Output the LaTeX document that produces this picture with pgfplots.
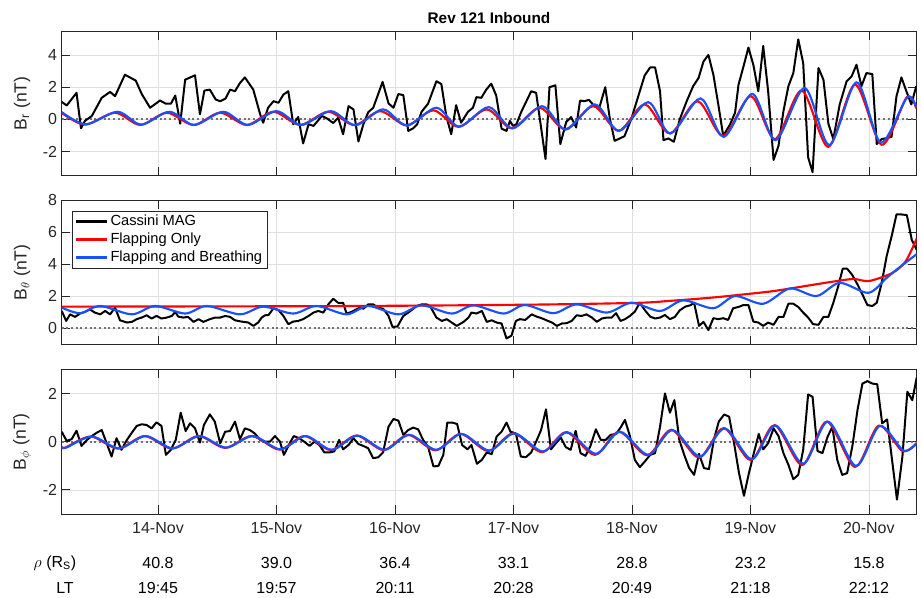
\documentclass[border=0pt]{standalone}
\usepackage{pgfplots}
\pgfplotsset{compat=1.18}
\usepackage{fontspec}
\setmainfont{Liberation Sans}
\definecolor{axgray}{rgb}{0.15,0.15,0.15}
\definecolor{mblue}{RGB}{25,80,255}
\definecolor{mred}{RGB}{255,0,0}
\pgfplotsset{
  panel/.style={
    scale only axis, width=641.25pt, height=108.4pt, anchor=north west,
    xmin=-19.5, xmax=153.7,
    xtick={0,24,48,72,96,120,144}, xticklabels={},
    tick align=inside, tick pos=both, major tick length=6.5pt,
    grid=major, major grid style={line width=0.4pt, color=black!12},
    axis line style={line width=0.5pt, color=axgray},
    every tick/.style={line width=0.5pt, color=axgray},
    tick label style={font=\fontsize{12}{14}\selectfont, text=axgray},
    /pgf/number format/assume math mode=true,
    ylabel style={font=\fontsize{13.2}{15}\selectfont, text=axgray, at={(axis description cs:-0.0464,0.5)}, anchor=center},
  },
  zero/.style={color=black!55, line width=1.5pt, dash pattern=on 1.5pt off 2pt, forget plot},
  mag/.style={color=black, line width=1.5pt, line join=round},
  flap/.style={color=mred, line width=1.6pt, smooth},
  breath/.style={color=mblue, line width=1.6pt, smooth},
}
\begin{document}
\begin{tikzpicture}
\useasboundingbox (0pt,0pt) rectangle (691.5pt,-447.75pt);
\node[font=\bfseries\fontsize{11.5}{13}\selectfont, text=black] at (366.75pt,-13.5pt) {Rev 121 Inbound};

% ---------------- Panel 1: B_r
\begin{axis}[panel, at={(46.3pt,-23.25pt)}, ymin=-3.5, ymax=5.5, ytick={-2,0,2,4},
  ylabel={B\textsubscript{r} (nT)}]
\addplot[zero] coordinates {(-19.5,0) (153.7,0)};
\addplot[mag] coordinates {
(-19.5,1.09) (-18.5,0.86) (-16.5,1.65) (-15.6,-0.56) (-14.8,-0.10) (-13.4,0.21) (-11.4,1.34) (-9.7,1.71) (-8.7,1.44) (-6.7,2.78) (-4.5,2.41) (-3.3,1.58) (-1.6,0.72) (0.4,1.17) (1.6,0.97) (2.6,0.97) (3.5,1.48) (4.5,-0.27) (5.5,2.47) (7.5,2.74) (8.5,0.31) (9.4,1.79) (10.5,1.85) (11.7,1.23) (12.6,1.13) (13.7,1.30) (14.6,1.85) (15.6,1.75) (16.6,2.26) (17.6,2.61) (19.3,1.85) (20.7,0.31) (21.3,-0.21) (22.3,0.72) (23.4,1.13) (24.4,1.03) (25.4,1.54) (26.4,1.75) (27.4,-0.31) (28.4,0.14) (29.4,-1.50) (30.5,-0.31) (31.5,-0.41) (33.2,0.21) (34.2,0.06) (35.5,-0.23) (36.5,0.10) (37.5,-0.93) (38.6,0.82) (39.6,0.62) (40.6,-1.38)
(41.6,-0.31) (42.6,0.45) (43.6,0.72) (45.5,2.33) (46.7,0.99) (47.7,0.72) (48.7,1.58) (49.7,1.50) (50.7,-0.72) (51.7,-0.56) (52.5,-0.31) (53.4,0.47) (54.7,0.97) (56.4,2.37) (57.4,2.20) (58.4,0.21) (59.4,-0.93) (60.4,0.88) (61.4,-0.21) (62.8,0.47) (63.8,0.72) (64.5,1.38) (65.5,1.34) (66.5,1.85) (67.5,2.22) (68.5,1.50) (69.6,-0.58) (70.6,-0.72) (71.3,-0.10) (71.9,-0.41) (72.6,-0.31) (73.6,0.47) (75.6,1.75) (76.6,1.65) (77.6,-0.51) (78.5,-2.47) (79.3,2.00) (80.5,2.12) (81.5,-1.54) (82.7,-0.16) (83.7,0.14) (84.7,-0.51) (85.5,1.17) (86.4,1.13) (87.3,1.21) (88.4,0.82) (89.4,0.72) (90.6,2.00) (91.5,0.10) (92.5,-1.34) (94.5,-1.05) (95.9,0.04) (97.6,1.75)
(98.6,2.74) (99.7,3.23) (100.7,3.23) (101.7,1.75) (102.4,-1.30) (103.4,-1.19) (104.5,-1.40) (105.7,0.0) (107.1,1.13) (108.4,2.06) (109.5,2.57) (110.5,3.60) (111.5,4.01) (112.5,2.78) (113.5,0.93) (114.5,-1.03) (115.9,-0.31) (116.9,0.41) (117.6,2.16) (118.7,3.40) (119.6,4.47) (120.6,3.40) (121.6,1.75) (122.6,4.57) (123.6,1.75) (124.7,-2.53) (125.7,-1.65) (126.7,0.51) (127.7,2.06) (128.7,2.88) (129.7,4.98) (130.7,3.50) (131.7,-2.37) (132.6,-3.29) (133.8,3.19) (134.8,2.47) (135.8,-0.27) (136.8,-1.23) (138.1,0.93) (139.5,2.37) (140.5,2.67) (141.5,3.40) (142.5,2.06) (143.5,2.88) (144.7,2.82) (145.6,-1.54) (146.6,-1.23) (147.6,-1.17) (148.6,-1.09) (149.6,1.44) (150.6,2.61) (151.6,1.75) (152.6,0.93) (153.6,2.06)};
\addplot[flap] coordinates {
(-19.5,0.40) (-14.8,-0.33) (-8.7,0.41) (-3.6,-0.35) (1.8,0.41) (7.2,-0.35) (12.6,0.41) (18.0,-0.35) (23.4,0.47) (28.8,-0.35) (34.5,0.47) (39.8,-0.36) (45.0,0.51) (50.4,-0.37) (55.8,0.56) (60.9,-0.47) (66.6,0.62) (71.7,-0.56) (77.3,0.72) (82.5,-0.62) (88.2,0.82) (93.3,-0.72) (98.6,0.93) (103.7,-0.88) (109.3,1.13) (114.5,-1.03) (120.1,1.44) (125.0,-1.23) (130.4,1.79) (135.8,-1.71) (141.2,2.16) (146.6,-1.58) (151.7,1.38) (153.6,0.68)};
\addplot[breath] coordinates {
(-19.5,0.45) (-14.6,-0.31) (-8.2,0.47) (-3.4,-0.33) (2.3,0.47) (7.3,-0.35) (13.2,0.47) (18.2,-0.35) (24.0,0.51) (29.0,-0.35) (35.0,0.51) (40.0,-0.37) (45.6,0.62) (50.4,-0.39) (56.4,0.72) (61.0,-0.45) (67.0,0.76) (71.8,-0.56) (77.8,0.82) (82.6,-0.64) (88.5,0.93) (93.4,-0.72) (99.3,1.07) (103.8,-0.88) (109.9,1.30) (114.6,-1.09) (120.4,1.58) (125.1,-1.30) (131.0,1.95) (136.0,-1.60) (141.5,2.30) (146.4,-1.44) (151.7,1.34) (153.6,0.76)};
\end{axis}

% ---------------- Panel 2: B_theta
\begin{axis}[panel, at={(46.3pt,-150pt)}, ymin=-1, ymax=8, ytick={0,2,4,6,8},
  ylabel={B\textsubscript{$\theta$} (nT)},
  legend cell align=left,
  legend image code/.code={\draw[#1] (0pt,0pt) -- (23pt,0pt);},
  every legend image post/.style={line width=2.2pt},
  legend style={at={(rel axis cs:0.012,0.924)}, anchor=north west, draw=axgray, fill=white,
    font=\fontsize{11}{13}\selectfont, text=black, inner xsep=2pt, inner ysep=1pt, row sep=0pt,
    nodes={inner sep=1.5pt, text height=8pt, text depth=2.5pt}}]
\addplot[zero] coordinates {(-19.5,0) (153.7,0)};
\addplot[mag] coordinates {
(-19.5,1.09) (-18.6,0.47) (-17.8,0.88) (-16.8,0.72) (-15.8,0.93) (-14.8,1.03) (-13.8,1.19) (-12.8,0.99) (-11.7,0.88) (-10.7,1.09) (-9.7,0.88) (-8.7,1.30) (-7.7,0.51) (-6.3,0.37) (-5.3,0.41) (-4.3,0.58) (-3.3,0.68) (-2.3,0.82) (-1.3,0.62) (-0.3,0.78) (0.7,0.62) (1.8,0.68) (2.8,0.78) (3.5,1.03) (4.1,0.74) (5.1,0.68) (6.1,0.72) (7.2,0.41) (8.2,0.58) (9.2,0.41) (10.5,0.58) (11.6,0.68) (12.6,0.68) (13.6,0.78) (14.6,0.72) (15.6,0.51) (16.9,0.43) (18.3,0.37) (19.3,0.16) (20.3,0.37) (21.0,0.68) (21.7,0.82) (22.4,0.84) (23.4,1.26) (24.4,1.15) (25.4,0.78) (26.4,0.27) (27.4,0.43) (28.4,0.47) (29.4,0.58) (30.5,0.78) (31.5,0.99) (32.5,1.09) (33.5,0.99) (34.5,1.50) (35.5,1.85) (36.5,1.60) (37.5,1.60) (38.2,0.93) (39.2,1.03) (40.2,1.19) (40.9,1.30)
(41.6,1.23) (42.6,1.50) (43.6,1.50) (44.6,1.30) (45.6,1.23) (46.7,0.78) (47.5,0.10) (48.5,0.12) (49.7,0.78) (50.7,0.99) (51.4,1.15) (52.4,1.40) (53.4,1.50) (54.4,1.50) (55.1,1.40) (56.4,0.68) (57.5,0.47) (58.5,0.58) (59.5,0.37) (60.5,0.16) (61.9,0.41) (62.9,0.68) (63.5,0.99) (64.5,0.93) (65.6,1.09) (66.6,0.41) (67.6,0.51) (68.6,0.37) (69.6,0.31) (70.6,-0.62) (71.6,-0.45) (72.5,0.47) (73.3,0.58) (74.4,0.53) (75.7,0.88) (76.7,0.74) (77.7,0.64) (78.7,0.51) (79.8,0.37) (80.8,0.16) (81.8,0.31) (82.8,0.33) (83.8,0.47) (84.8,0.82) (85.8,0.78) (86.8,0.88) (87.9,0.68) (88.9,0.41) (89.9,0.62) (90.9,0.68) (91.9,0.68) (92.8,0.95) (93.7,0.47) (94.6,0.58) (95.6,0.78) (96.6,1.05) (97.6,1.60)
(98.6,1.15) (99.7,0.74) (100.7,0.62) (101.7,0.68) (102.7,0.84) (103.7,0.58) (104.7,0.72) (105.7,1.13) (106.8,1.36) (107.8,1.44) (108.6,1.60) (109.6,0.16) (110.5,0.41) (111.5,-0.10) (112.5,0.64) (113.5,0.58) (114.5,0.64) (115.5,0.53) (116.5,1.26) (117.6,1.34) (118.6,1.46) (119.6,1.46) (120.6,0.43) (121.6,0.37) (122.6,0.16) (123.6,0.37) (124.7,0.23) (125.7,0.72) (126.7,0.72) (127.7,1.54) (128.7,1.54) (129.7,1.34) (130.7,0.99) (131.7,0.68) (132.7,0.27) (133.8,0.23) (134.8,0.72) (135.8,0.72) (136.8,1.60) (137.8,2.63) (138.7,3.72) (139.6,3.72) (140.6,3.35) (141.7,2.74) (142.7,2.12) (143.7,1.46) (144.7,1.40) (145.6,1.60) (146.6,2.84) (147.6,4.49) (148.6,5.72) (149.6,7.10) (150.6,7.10) (151.7,7.06) (152.7,5.51) (153.7,4.90)};
\addlegendentry{Cassini MAG}
\addplot[flap] coordinates {
(-19.5,1.36) (0,1.37) (20,1.38) (40,1.40) (60,1.44) (80,1.50) (97.6,1.60) (103.7,1.72) (108.6,1.83) (113.9,1.97) (119.2,2.14) (124.0,2.30) (127.3,2.45) (132.7,2.72) (136.8,2.92) (140.9,3.08) (143.9,2.95) (147.6,3.30) (149.6,3.62) (151.6,4.25) (153.7,5.60)};
\addlegendentry{Flapping Only}
\addplot[breath] coordinates {
(-19.5,1.30) (-15.8,0.95) (-11.7,1.40) (-5.3,0.88) (-0.6,1.40) (5.5,0.93) (9.9,1.40) (16.6,0.88) (21.3,1.36) (27.4,0.93) (32.1,1.40) (38.2,0.88) (42.6,1.40) (48.7,0.88) (53.4,1.44) (59.5,0.93) (63.9,1.44) (70.0,0.93) (74.3,1.46) (80.1,0.95) (84.8,1.50) (90.9,0.99) (95.9,1.60) (101.7,1.09) (106.4,1.75) (112.5,1.26) (116.9,2.02) (122.6,1.54) (128.0,2.49) (133.4,2.02) (138.1,2.84) (143.9,2.22) (147.6,3.15) (149.6,3.66) (153.7,4.63)};
\addlegendentry{Flapping and Breathing}
\end{axis}

% ---------------- Panel 3: B_phi
\begin{axis}[panel, at={(46.3pt,-277pt)}, ymin=-3, ymax=3, ytick={-2,0,2},
  ylabel={B\textsubscript{$\phi$} (nT)},
  xticklabels={14-Nov,15-Nov,16-Nov,17-Nov,18-Nov,19-Nov,20-Nov},
  xticklabel style={yshift=-3pt}]
\addplot[zero] coordinates {(-19.5,0) (153.7,0)};
\addplot[mag] coordinates {
(-19.5,0.41) (-18.5,0.03) (-17.5,0.10) (-16.5,0.45) (-15.5,-0.18) (-14.4,0.07) (-13.4,0.23) (-12.4,0.37) (-11.4,0.48) (-10.4,-0.07) (-9.4,-0.62) (-8.4,0.14) (-7.4,-0.34) (-6.3,0.07) (-5.3,0.37) (-4.3,0.65) (-3.3,0.72) (-2.3,0.69) (-1.3,0.55) (-0.3,0.80) (0.7,0.65) (1.6,-0.55) (2.6,-0.34) (3.6,0.07) (4.6,1.20) (5.6,0.44) (6.5,0.76) (7.5,0.55) (8.5,-0.04) (9.3,0.69) (10.5,1.13) (11.5,0.83) (12.6,-0.07) (13.6,0.41) (14.6,0.44) (15.6,0.83) (16.6,0.10) (17.6,0.55) (18.6,0.48) (19.6,0.34) (20.7,0.07) (21.7,0.0) (22.7,0.0) (23.7,0.23) (24.7,0.0) (25.5,-0.55) (26.5,-0.14) (27.5,0.23) (28.6,0.14) (29.6,0.0) (30.7,-0.18) (31.7,0.0) (32.7,-0.14) (33.7,-0.45) (34.7,-0.45) (35.7,-0.41) (36.7,0.07) (37.5,-0.32) (38.6,-0.14) (39.6,0.14) (40.6,-0.10)
(41.6,-0.18) (42.6,-0.28) (43.6,-0.69) (44.6,-0.65) (45.6,-0.45) (46.7,0.62) (47.7,0.94) (48.7,0.87) (49.7,0.28) (50.7,0.48) (51.7,0.58) (52.7,0.51) (53.7,0.07) (54.7,-0.21) (55.8,-1.03) (56.8,-1.01) (57.8,-0.55) (58.6,0.79) (59.6,0.79) (60.6,0.73) (61.6,-0.14) (62.7,-0.32) (63.5,-0.14) (64.6,-0.92) (65.6,-0.76) (66.6,-0.45) (67.6,-0.52) (68.6,0.21) (69.6,0.41) (70.6,0.79) (71.4,0.41) (72.5,0.34) (73.5,-0.62) (74.5,-0.65) (75.6,-0.45) (76.6,0.0) (77.6,0.48) (78.6,1.34) (79.6,-0.32) (80.6,-0.07) (81.6,0.17) (82.6,-0.23) (83.6,-0.34) (84.6,0.45) (85.6,-0.48) (86.6,-0.59) (87.6,-0.18) (88.7,0.51) (89.7,0.07) (90.7,0.07) (91.7,0.28) (92.8,0.32) (93.7,0.58) (94.6,0.90) (95.6,0.23) (96.6,-0.76) (97.6,-1.06)
(98.6,-0.83) (99.7,-0.55) (100.7,-0.48) (101.7,0.62) (102.7,2.00) (103.7,1.20) (104.6,1.72) (105.6,0.07) (106.6,-0.55) (107.6,-1.10) (108.6,-1.38) (109.6,-0.51) (110.6,-1.10) (111.6,-1.14) (112.6,0.07) (113.6,0.83) (114.7,1.13) (115.7,1.03) (116.7,-0.07) (117.7,-1.31) (118.7,-2.25) (119.7,-1.31) (120.7,-0.48) (121.7,0.32) (122.6,-0.32) (123.6,-0.07) (124.7,0.55) (125.7,0.23) (126.7,-0.48) (127.7,-0.96) (128.7,-1.56) (129.7,-1.38) (130.7,-0.34) (131.7,1.96) (132.6,1.86) (133.6,-0.39) (134.6,-0.48) (135.6,0.18) (136.6,0.62) (137.6,-0.76) (138.6,-1.38) (139.6,-1.31) (140.7,-0.14) (141.7,1.31) (142.7,2.41) (143.7,2.51) (144.7,2.41) (145.7,2.38) (146.7,0.76) (147.7,0.92) (148.7,-0.76) (149.7,-2.41) (150.8,-0.62) (151.8,2.07) (152.8,1.72) (153.7,2.66)};
\addplot[flap] coordinates {
(-19.5,-0.22) (-18.8,-0.25) (-13.6,0.21) (-8.1,-0.29) (-2.7,0.23) (2.8,-0.29) (8.2,0.23) (13.6,-0.26) (19.0,0.23) (24.6,-0.33) (29.7,0.23) (35.0,-0.35) (40.2,0.25) (45.7,-0.35) (50.7,0.28) (56.2,-0.36) (61.3,0.32) (66.9,-0.39) (72.0,0.34) (77.8,-0.44) (82.7,0.39) (88.5,-0.55) (93.4,0.41) (99.1,-0.57) (104.0,0.49) (109.6,-0.66) (114.6,0.56) (120.1,-0.77) (124.9,0.68) (130.5,-0.97) (135.5,0.83) (141.2,-1.05) (146.0,0.66) (150.8,-0.39) (153.7,-0.05)};
\addplot[breath] coordinates {
(-19.5,-0.21) (-18.6,-0.25) (-13.4,0.21) (-7.9,-0.28) (-2.5,0.23) (3.0,-0.28) (8.4,0.23) (13.8,-0.25) (19.2,0.23) (24.8,-0.32) (29.9,0.23) (35.2,-0.34) (40.4,0.25) (45.9,-0.34) (50.9,0.28) (56.4,-0.34) (61.5,0.32) (67.1,-0.37) (72.2,0.34) (78.0,-0.41) (82.9,0.39) (88.7,-0.51) (93.6,0.41) (99.3,-0.55) (104.2,0.48) (109.8,-0.62) (114.8,0.55) (120.3,-0.73) (125.1,0.67) (130.7,-0.92) (135.7,0.83) (141.4,-1.01) (146.2,0.65) (151.0,-0.37) (153.7,-0.07)};
\end{axis}

% ---------------- rows of rho and LT under the x axis
\begin{scope}[font=\fontsize{12}{14}\selectfont, text=black]
\node at (41.25pt,-422.25pt) {$\rho$ (R\textsubscript{S})};
\node at (48.75pt,-441pt) {LT};
\foreach \xx/\rr/\lt in {118.5/40.8/19:45, 207.375/39.0/19:57, 296.25/36.4/20:11, 385.125/33.1/20:28, 474/28.8/20:49, 562.875/23.2/21:18, 651.75/15.8/22:12}{
  \node at (\xx pt,-422.25pt) {\rr};
  \node at (\xx pt,-441pt) {\lt};
}
\end{scope}
\end{tikzpicture}
\end{document}
